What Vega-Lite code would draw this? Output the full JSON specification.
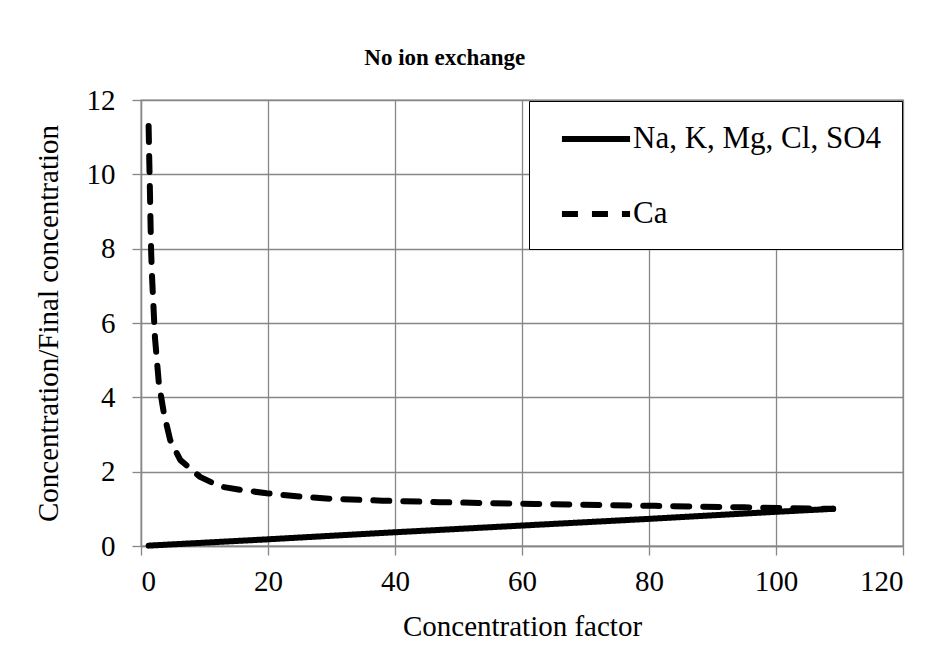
{
  "$schema": "https://vega.github.io/schema/vega-lite/v6.json",
  "width": 762,
  "height": 446,
  "autosize": {"type": "none"},
  "padding": {"left": 141, "top": 100, "right": 40, "bottom": 108},
  "background": "white",
  "title": {
    "text": "No ion exchange",
    "font": "Liberation Serif",
    "fontSize": 23,
    "fontWeight": "bold",
    "color": "black",
    "anchor": "middle",
    "frame": "bounds",
    "baseline": "alphabetic",
    "offset": 34,
    "dy": 36,
    "dx": -24
  },
  "data": {
    "values": [
      {"cf": 1.2, "ratio": 0.01, "series": "Na, K, Mg, Cl, SO4"},
      {"cf": 20, "ratio": 0.18, "series": "Na, K, Mg, Cl, SO4"},
      {"cf": 40, "ratio": 0.37, "series": "Na, K, Mg, Cl, SO4"},
      {"cf": 60, "ratio": 0.55, "series": "Na, K, Mg, Cl, SO4"},
      {"cf": 80, "ratio": 0.73, "series": "Na, K, Mg, Cl, SO4"},
      {"cf": 100, "ratio": 0.92, "series": "Na, K, Mg, Cl, SO4"},
      {"cf": 109, "ratio": 1.0, "series": "Na, K, Mg, Cl, SO4"},
      {"cf": 1.2, "ratio": 11.3, "series": "Ca"},
      {"cf": 1.3, "ratio": 10.4, "series": "Ca"},
      {"cf": 1.4, "ratio": 9.6, "series": "Ca"},
      {"cf": 1.5, "ratio": 8.7, "series": "Ca"},
      {"cf": 1.6, "ratio": 7.9, "series": "Ca"},
      {"cf": 1.75, "ratio": 7.2, "series": "Ca"},
      {"cf": 2.2, "ratio": 5.6, "series": "Ca"},
      {"cf": 2.8, "ratio": 4.4, "series": "Ca"},
      {"cf": 3.6, "ratio": 3.57, "series": "Ca"},
      {"cf": 4.6, "ratio": 2.85, "series": "Ca"},
      {"cf": 6.2, "ratio": 2.31, "series": "Ca"},
      {"cf": 9.3, "ratio": 1.86, "series": "Ca"},
      {"cf": 12.5, "ratio": 1.6, "series": "Ca"},
      {"cf": 15.6, "ratio": 1.51, "series": "Ca"},
      {"cf": 19.8, "ratio": 1.42, "series": "Ca"},
      {"cf": 25, "ratio": 1.33, "series": "Ca"},
      {"cf": 30, "ratio": 1.27, "series": "Ca"},
      {"cf": 38, "ratio": 1.22, "series": "Ca"},
      {"cf": 47, "ratio": 1.18, "series": "Ca"},
      {"cf": 62, "ratio": 1.13, "series": "Ca"},
      {"cf": 81, "ratio": 1.08, "series": "Ca"},
      {"cf": 95, "ratio": 1.04, "series": "Ca"},
      {"cf": 109, "ratio": 1.0, "series": "Ca"}
    ]
  },
  "mark": {"type": "line", "strokeWidth": 6, "strokeCap": "round", "strokeJoin": "round", "color": "black"},
  "encoding": {
    "x": {
      "field": "cf",
      "type": "quantitative",
      "title": "Concentration factor",
      "scale": {"domain": [0, 120], "nice": false, "zero": false},
      "axis": {"values": [0, 20, 40, 60, 80, 100, 120], "tickSize": 9, "labelPadding": 12, "titlePadding": 16}
    },
    "y": {
      "field": "ratio",
      "type": "quantitative",
      "title": "Concentration/Final concentration",
      "scale": {"domain": [0, 12], "nice": false},
      "axis": {"values": [0, 2, 4, 6, 8, 10, 12], "tickSize": 9, "labelPadding": 17, "titlePadding": 23}
    },
    "strokeDash": {
      "field": "series",
      "type": "nominal",
      "scale": {"domain": ["Na, K, Mg, Cl, SO4", "Ca"], "range": [[1, 0], [16, 14]]},
      "legend": {
        "title": null,
        "orient": "top-right",
        "offset": 1,
        "fillColor": "white",
        "strokeColor": "black",
        "padding": 20,
        "symbolType": "M-2.27,0H2.27",
        "symbolSize": 900,
        "symbolStrokeWidth": 6,
        "symbolStrokeColor": "black",
        "symbolOffset": 29,
        "labelOffset": 19,
        "rowPadding": 42,
        "labelFont": "Liberation Serif",
        "labelFontSize": 31,
        "labelColor": "black",
        "labelLimit": 400
      }
    }
  },
  "config": {
    "view": {"stroke": "#878787", "strokeWidth": 1.3},
    "font": "Liberation Serif",
    "axis": {
      "grid": true,
      "gridColor": "#878787",
      "gridWidth": 1.3,
      "gridOpacity": 1,
      "domainColor": "#878787",
      "domainWidth": 1.3,
      "tickColor": "#878787",
      "tickWidth": 1.3,
      "labelFont": "Liberation Serif",
      "labelFontSize": 29,
      "labelColor": "black",
      "titleFont": "Liberation Serif",
      "titleFontSize": 29,
      "titleFontWeight": "normal",
      "titleColor": "black"
    }
  }
}
